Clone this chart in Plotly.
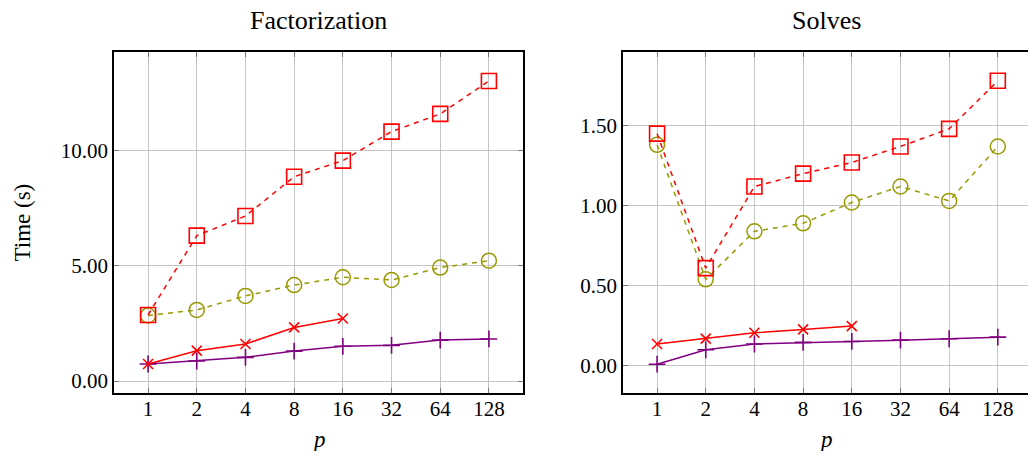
import plotly.graph_objects as go

p_labels = ["1", "2", "4", "8", "16", "32", "64", "128"]

# Factorization times (s)
fact_sq = [2.87, 6.32, 7.17, 8.88, 9.58, 10.84, 11.61, 13.04]
fact_circ = [2.85, 3.09, 3.70, 4.17, 4.51, 4.39, 4.93, 5.23]
fact_x = [0.74, 1.32, 1.61, 2.33, 2.72]
fact_plus = [0.74, 0.87, 1.03, 1.30, 1.51, 1.55, 1.78, 1.83]

# Solve times (s)
solve_sq = [1.45, 0.61, 1.12, 1.20, 1.27, 1.37, 1.48, 1.78]
solve_circ = [1.38, 0.54, 0.84, 0.89, 1.02, 1.12, 1.03, 1.37]
solve_x = [0.136, 0.17, 0.206, 0.227, 0.248]
solve_plus = [0.01, 0.10, 0.136, 0.146, 0.152, 0.16, 0.169, 0.179]

left_yticks = [0, 5, 10]
right_yticks = [0, 0.5, 1.0, 1.5]

RED = "#ff0000"
OLIVE = "#999900"
PURPLE = "#800080"
FONT = "Liberation Serif"

fig = go.Figure()

def add_series(xa, ya, sq, circ, xs, plus):
    fig.add_trace(go.Scatter(x=p_labels[:len(plus)], y=plus, mode="lines+markers",
                             line=dict(color=PURPLE, width=1.5),
                             marker=dict(symbol="cross-thin", size=12, line=dict(color=PURPLE, width=1.6)),
                             xaxis=xa, yaxis=ya, showlegend=False))
    fig.add_trace(go.Scatter(x=p_labels[:len(xs)], y=xs, mode="lines+markers",
                             line=dict(color=RED, width=1.5),
                             marker=dict(symbol="x-thin", size=10, line=dict(color=RED, width=1.6)),
                             xaxis=xa, yaxis=ya, showlegend=False))
    fig.add_trace(go.Scatter(x=p_labels[:len(circ)], y=circ, mode="lines+markers",
                             line=dict(color=OLIVE, width=1.5, dash="5px,5px"),
                             marker=dict(symbol="circle-open", size=15, color=OLIVE, line=dict(color=OLIVE, width=1.5)),
                             xaxis=xa, yaxis=ya, showlegend=False))
    fig.add_trace(go.Scatter(x=p_labels[:len(sq)], y=sq, mode="lines+markers",
                             line=dict(color=RED, width=1.5, dash="5px,5px"),
                             marker=dict(symbol="square-open", size=15, color=RED, line=dict(color=RED, width=1.6)),
                             xaxis=xa, yaxis=ya, showlegend=False))

add_series("x", "y", fact_sq, fact_circ, fact_x, fact_plus)
add_series("x2", "y2", solve_sq, solve_circ, solve_x, solve_plus)

W, H = 1028, 451
common_x = dict(type="category", categoryorder="array", categoryarray=p_labels,
                showgrid=True, gridcolor="#c4c4c4", gridwidth=1,
                showline=True, linecolor="black", linewidth=1.5,
                ticks="inside", ticklen=5, tickcolor="#777", tickwidth=1,
                ticklabelstandoff=-4,
                tickfont=dict(family=FONT, size=21, color="black"), zeroline=False)
common_y = dict(showgrid=True, gridcolor="#c4c4c4", gridwidth=1,
                showline=True, linecolor="black", linewidth=1.5,
                ticks="inside", ticklen=5, tickcolor="#777", tickwidth=1,
                tickfont=dict(family=FONT, size=21, color="black"),
                tickformat=".2f", zeroline=False)

def label(text, x, y, yshift, size, angle=0):
    return dict(text=text, x=x / W, y=y, xref="paper", yref="paper", yshift=yshift,
                xanchor="center", yanchor="middle", textangle=angle,
                showarrow=False, font=dict(family=FONT, size=size, color="black"))

fig.update_layout(
    width=W, height=H,
    margin=dict(l=0, r=0, t=52, b=58),
    plot_bgcolor="white", paper_bgcolor="white",
    xaxis=dict(common_x, domain=[114 / W, 523 / W], range=[-0.7, 7.7], anchor="y", mirror="ticks"),
    yaxis=dict(common_y, domain=[0, 1], range=[-0.52, 14.3], tickvals=left_yticks, anchor="x", mirror="ticks"),
    xaxis2=dict(common_x, domain=[623 / W, 1.0], range=[-0.7, 7.62], anchor="y2", mirror="ticks"),
    yaxis2=dict(common_y, domain=[0, 1], range=[-0.17, 1.96], tickvals=right_yticks, anchor="x2", mirror=False),
    annotations=[
        label("Factorization", 318.5, 1, 32, 26),
        label("Solves", 826, 1, 32, 26),
        label("<i>p</i>", 318.5, 0, -46, 23),
        label("<i>p</i>", 826, 0, -46, 23),
        label("Time (s)", 22, 0.5, 0, 23, -90),
    ],
)

fig.write_html("out.html", config={"displayModeBar": False},
               post_script="document.body.style.margin='0';document.body.style.overflow='hidden';")
